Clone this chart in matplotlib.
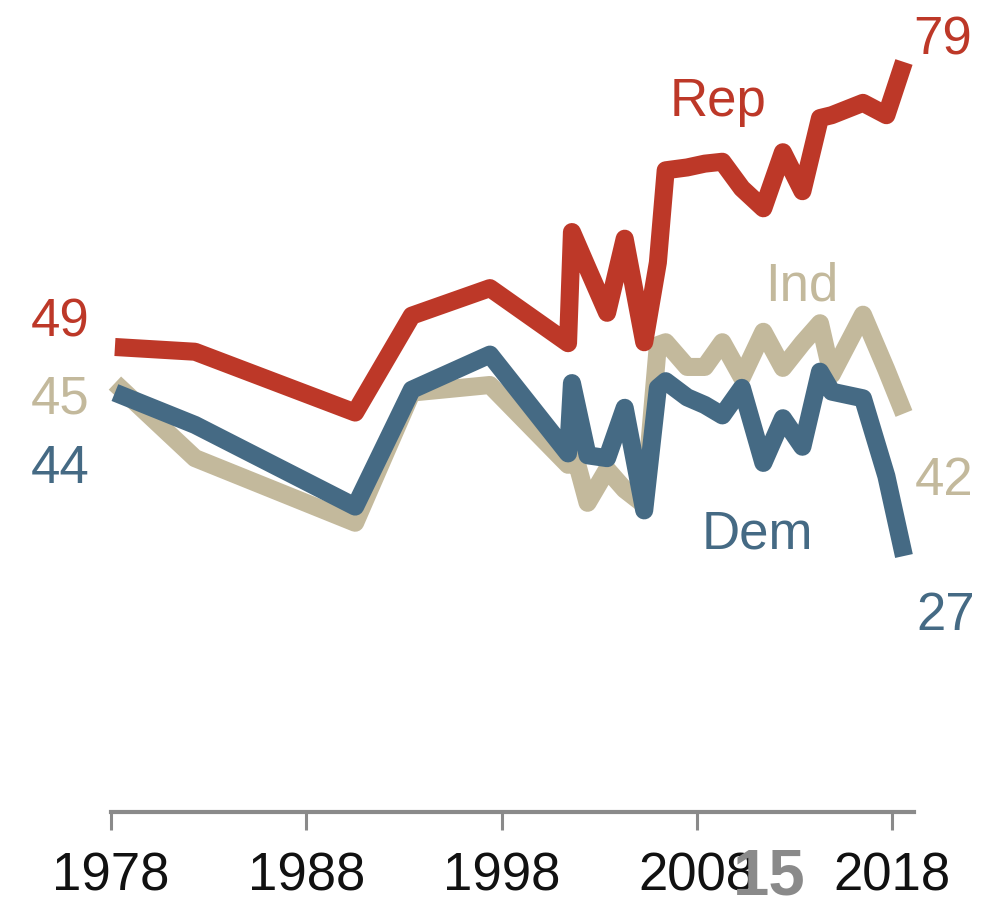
import matplotlib
matplotlib.use("Agg")
import matplotlib.pyplot as plt

# =========================================================
# DATA
# =========================================================

years = [1978.2, 1982.3, 1990.5, 1993.4, 1997.4, 2001.4, 2001.6, 2002.4,
         2003.4, 2004.3, 2005.3, 2006.0, 2006.4, 2007.5, 2008.4, 2009.3,
         2010.3, 2011.4, 2012.4, 2013.4, 2014.3, 2014.9, 2016.5, 2017.7,
         2018.6]

rep = [49.0, 48.5, 42.1, 52.3, 55.2, 49.4, 61.1, 57.3, 52.6, 60.4, 49.5,
       57.9, 67.6, 67.9, 68.3, 68.5, 65.7, 63.6, 69.5, 65.4, 73.1, 73.4,
       74.7, 73.4, 79.0]

dem = [44.2, 40.8, 32.2, 44.5, 48.2, 37.8, 45.2, 37.6, 37.3, 42.6, 31.8,
       44.7, 45.4, 43.7, 42.9, 41.8, 44.7, 36.8, 41.5, 38.5, 46.4, 44.3,
       43.6, 35.4, 27.0]

ind = [45.2, 37.3, 30.5, 44.2, 45.0, 36.6, 38.7, 32.6, 36.1, 34.0, 32.4,
       49.2, 49.5, 46.9, 46.9, 49.5, 45.8, 50.6, 46.8, 49.4, 51.5, 46.1,
       52.4, 46.6, 42.0]

tick_years = [1978, 1988, 1998, 2008, 2018]
start_labels = ["49", "45", "44"]
end_labels = ["79", "42", "27"]

RED = "#bd3828"
BLUE = "#456a84"
TAN = "#c3b99c"
GREY = "#8a8a8a"

plt.rcParams['font.family'] = ['Liberation Sans', 'DejaVu Sans']

fig = plt.figure(figsize=(9.86, 9.01), dpi=100)
ax = fig.add_axes([0, 0, 1, 1])
ax.set_xlim(1972.316, 2022.80)
ax.set_ylim(-9.316, 85.526)

lw = 13
ax.plot(years, ind, color=TAN, lw=lw, solid_capstyle='butt', solid_joinstyle='round', zorder=2)
ax.plot(years, dem, color=BLUE, lw=lw, solid_capstyle='butt', solid_joinstyle='round', zorder=3)
ax.plot(years, rep, color=RED, lw=lw, solid_capstyle='butt', solid_joinstyle='round', zorder=4)

# axis
for s in ['top', 'left', 'right']:
    ax.spines[s].set_visible(False)
ax.spines['bottom'].set_position(('data', 0))
ax.spines['bottom'].set_bounds(1978, 2019.1)
ax.spines['bottom'].set_color(GREY)
ax.spines['bottom'].set_linewidth(3)
ax.set_yticks([])
ax.set_xticks(tick_years)
ax.set_xticklabels([str(y) for y in tick_years])
ax.tick_params(axis='x', direction='out', length=13, width=2.2, color=GREY,
               labelsize=38, labelcolor='#111111', pad=15)
ax.patch.set_alpha(0)

fs = 38
# start values
for lab, series, col, dy in zip(start_labels, [rep, ind, dem], [RED, TAN, BLUE], [10, -30, -90]):
    ax.annotate(lab, xy=(years[0], series[0]), xytext=(-25, dy),
                textcoords='offset pixels', ha='right', va='baseline',
                fontsize=fs, color=col)

# end values
for lab, series, col, off in zip(end_labels, [rep, ind, dem], [RED, TAN, BLUE],
                                 [(9, 7), (11, -82), (12, -74)]):
    ax.annotate(lab, xy=(years[-1], series[-1]), xytext=off,
                textcoords='offset pixels', ha='left', va='baseline',
                fontsize=fs, color=col, annotation_clip=False)

# series names
ax.text(2006.62, 73.3, "Rep", color=RED, fontsize=fs, ha='left', va='baseline')
ax.text(2011.49, 53.9, "Ind", color=TAN, fontsize=fs, ha='left', va='baseline')
ax.text(2008.26, 27.8, "Dem", color=BLUE, fontsize=fs, ha='left', va='baseline')

# stray overlay text
ax.text(2009.85, -8.6, "15", color=GREY, fontsize=47, fontweight='bold',
        ha='left', va='baseline', clip_on=False, zorder=10)

fig.savefig("out.png", dpi=100)
